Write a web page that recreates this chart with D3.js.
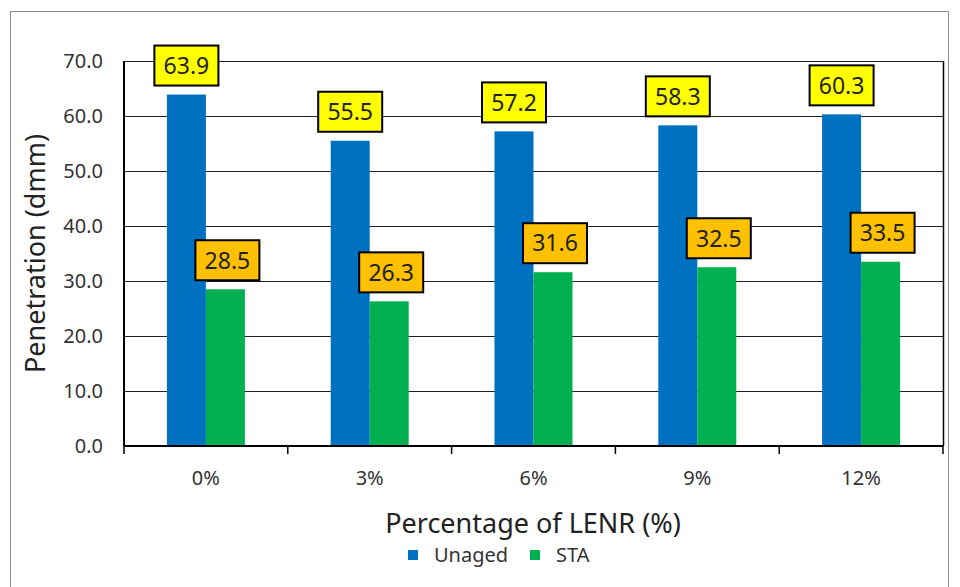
<!DOCTYPE html>
<html>
<head>
<meta charset="utf-8">
<script src="https://cdn.jsdelivr.net/npm/d3@7"></script>
<style>
  body { margin: 0; background: #fff; }
  svg { font-family: "Noto Sans", "Open Sans", sans-serif; }
</style>
</head>
<body>
<svg id="chart" width="960" height="587"></svg>
<script>
const categories = ["0%", "3%", "6%", "9%", "12%"];
const seriesNames = ["Unaged", "STA"];
const unaged = [63.9, 55.5, 57.2, 58.3, 60.3];
const sta = [28.5, 26.3, 31.6, 32.5, 33.5];
const yTicks = [0, 10, 20, 30, 40, 50, 60, 70];

const colors = { Unaged: "#0070c0", STA: "#00b050" };
const labelFill = { Unaged: "#ffff00", STA: "#ffc000" };

const margin = { top: 61, right: 17, bottom: 141, left: 124 };
const width = 960 - margin.left - margin.right;
const height = 587 - margin.top - margin.bottom;

const svg = d3.select("#chart");

// outer chart border
svg.append("rect")
  .attr("x", 10.5).attr("y", 11.5)
  .attr("width", 938).attr("height", 580)
  .attr("fill", "none").attr("stroke", "#8c8c8c");

const g = svg.append("g").attr("transform", `translate(${margin.left},${margin.top})`);

const x = d3.scaleBand().domain(categories).range([0, width]);
const xs = d3.scaleBand().domain(seriesNames).range([x.bandwidth() / 2 - 39, x.bandwidth() / 2 + 39]);
const y = d3.scaleLinear().domain([0, 70]).range([height, 0]);

// gridlines
g.selectAll(".grid").data(yTicks).enter().append("line")
  .attr("x1", 0).attr("x2", width)
  .attr("y1", d => Math.round(y(d)) + 0.5).attr("y2", d => Math.round(y(d)) + 0.5)
  .attr("stroke", "#222").attr("stroke-width", 1);

// right border of plot
g.append("line").attr("x1", width + 0.5).attr("x2", width + 0.5)
  .attr("y1", 0).attr("y2", height).attr("stroke", "#000").attr("stroke-width", 1.5);

// y axis labels
g.selectAll(".ylab").data(yTicks).enter().append("text")
  .attr("x", -21).attr("y", d => y(d)).attr("dy", "0.35em")
  .attr("text-anchor", "end").attr("font-size", 20).attr("fill", "#333")
  .text(d => d.toFixed(1));

const data = seriesNames.map(s => ({ name: s, values: s === "Unaged" ? unaged : sta }));

// bars
const groups = g.selectAll(".series").data(data).enter().append("g");
groups.selectAll("rect").data(s => s.values.map((v, i) => ({ s: s.name, v, c: categories[i] })))
  .enter().append("rect")
  .attr("x", d => x(d.c) + xs(d.s))
  .attr("width", xs.bandwidth())
  .attr("y", d => y(d.v))
  .attr("height", d => height - y(d.v))
  .attr("fill", d => colors[d.s]);

// axes lines
g.append("line").attr("x1", 0).attr("x2", 0).attr("y1", 0).attr("y2", height)
  .attr("stroke", "#000").attr("stroke-width", 2);
g.append("line").attr("x1", 0).attr("x2", width).attr("y1", height).attr("y2", height)
  .attr("stroke", "#000").attr("stroke-width", 2);

// x ticks between categories
const tickPos = categories.map(c => x(c)).concat([width]);
g.selectAll(".xtick").data(tickPos).enter().append("line")
  .attr("x1", d => d).attr("x2", d => d)
  .attr("y1", height).attr("y2", height + 8)
  .attr("stroke", "#000").attr("stroke-width", 1.5);

g.selectAll(".xlab").data(categories).enter().append("text")
  .attr("x", d => x(d) + x.bandwidth() / 2).attr("y", height + 39)
  .attr("text-anchor", "middle").attr("font-size", 20).attr("fill", "#333")
  .text(d => d);

// data labels
const labels = g.selectAll(".lbl").data(data.flatMap(s => s.values.map((v, i) => ({ s: s.name, v, c: categories[i] }))))
  .enter().append("g")
  .attr("transform", d => `translate(${x(d.c) + xs(d.s) + xs.bandwidth() / 2 + (d.s === "STA" ? 2 : 0)},${y(d.v) - 29})`);
labels.append("rect")
  .attr("x", -32).attr("y", -20).attr("width", 64).attr("height", 40)
  .attr("fill", d => labelFill[d.s]).attr("stroke", "#000").attr("stroke-width", 2);
labels.append("text")
  .attr("text-anchor", "middle").attr("dy", "0.36em")
  .attr("font-size", 23).attr("fill", "#222")
  .text(d => d.v.toFixed(1));

// axis titles
svg.append("text")
  .attr("transform", `translate(45,${margin.top + height / 2}) rotate(-90)`)
  .attr("text-anchor", "middle").attr("font-size", 27).attr("fill", "#222")
  .text("Penetration (dmm)");

svg.append("text")
  .attr("x", 533).attr("y", 533)
  .attr("text-anchor", "middle").attr("font-size", 27).attr("fill", "#222")
  .text("Percentage of LENR (%)");

// legend
const legend = svg.append("g").attr("transform", "translate(408,555)");
const li = legend.selectAll("g").data(seriesNames).enter().append("g")
  .attr("transform", (d, i) => `translate(${i * 122},0)`);
li.append("rect").attr("x", 0).attr("y", -5).attr("width", 10).attr("height", 10)
  .attr("fill", d => colors[d]);
li.append("text").attr("x", 26).attr("dy", "0.35em")
  .attr("font-size", 20).attr("fill", "#333").text(d => d);
</script>
</body>
</html>
